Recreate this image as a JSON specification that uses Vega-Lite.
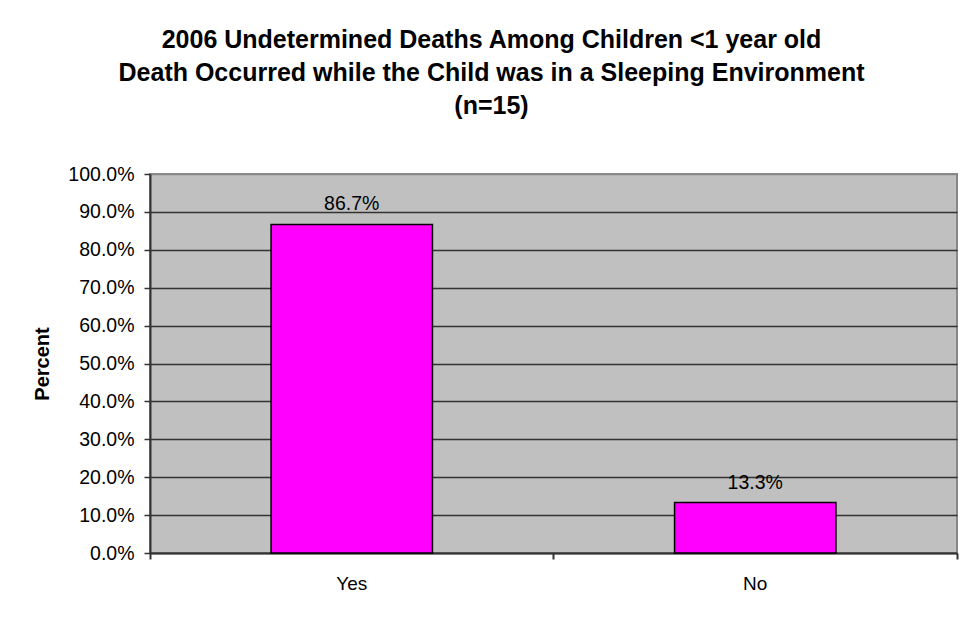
{
  "$schema": "https://vega.github.io/schema/vega-lite/v6.json",
  "width": 807,
  "height": 379,
  "autosize": {"type": "none"},
  "padding": {"left": 150, "top": 174, "right": 6, "bottom": 64},
  "background": "white",
  "title": {
    "text": ["2006 Undetermined Deaths Among Children <1 year old", "Death Occurred while the Child was in a Sleeping Environment", "(n=15)"],
    "font": "Liberation Sans",
    "fontSize": 25,
    "fontWeight": "bold",
    "color": "black",
    "lineHeight": 33,
    "anchor": "middle",
    "frame": "group",
    "dx": -62,
    "offset": 45
  },
  "data": {
    "values": [
      {"answer": "Yes", "percent": 0.867},
      {"answer": "No", "percent": 0.133}
    ]
  },
  "encoding": {
    "x": {
      "field": "answer",
      "type": "nominal",
      "sort": ["Yes", "No"],
      "scale": {"paddingInner": 0, "paddingOuter": 0},
      "axis": {
        "title": null,
        "labelAngle": 0,
        "bandPosition": 1,
        "tickExtra": true,
        "domainColor": "#333333",
        "domainWidth": 2,
        "tickColor": "#333333",
        "tickWidth": 2,
        "tickSize": 6,
        "labelPadding": 15,
        "labelFont": "Liberation Sans",
        "labelFontSize": 19,
        "labelColor": "black",
        "grid": false
      }
    },
    "y": {
      "field": "percent",
      "type": "quantitative",
      "scale": {"domain": [0, 1], "nice": false},
      "axis": {
        "title": "Percent",
        "titleFont": "Liberation Sans",
        "titleFontSize": 20,
        "titleFontWeight": "bold",
        "titleColor": "black",
        "titlePadding": 15,
        "format": ".1%",
        "values": [0, 0.1, 0.2, 0.3, 0.4, 0.5, 0.6, 0.7, 0.8, 0.9, 1.0],
        "labelFont": "Liberation Sans",
        "labelFontSize": 19.5,
        "labelColor": "black",
        "labelPadding": 10,
        "tickSize": 6,
        "tickColor": "#333333",
        "tickWidth": 1.5,
        "domainColor": "#333333",
        "domainWidth": 2,
        "grid": true,
        "gridColor": {"condition": {"test": "datum.value >= 1", "value": "#888888"}, "value": "#333333"},
        "gridWidth": 1.5,
        "gridOpacity": 1
      }
    }
  },
  "layer": [
    {
      "mark": {"type": "bar", "width": {"band": 0.4}, "color": "#FF00FF", "stroke": "black", "strokeWidth": 1.5}
    },
    {
      "mark": {"type": "text", "baseline": "alphabetic", "dy": -14, "font": "Liberation Sans", "fontSize": 19.5, "color": "black"},
      "encoding": {"text": {"field": "percent", "type": "quantitative", "format": ".1%"}}
    }
  ],
  "config": {
    "view": {"fill": "#C0C0C0", "stroke": "#888888", "strokeWidth": 2}
  }
}
